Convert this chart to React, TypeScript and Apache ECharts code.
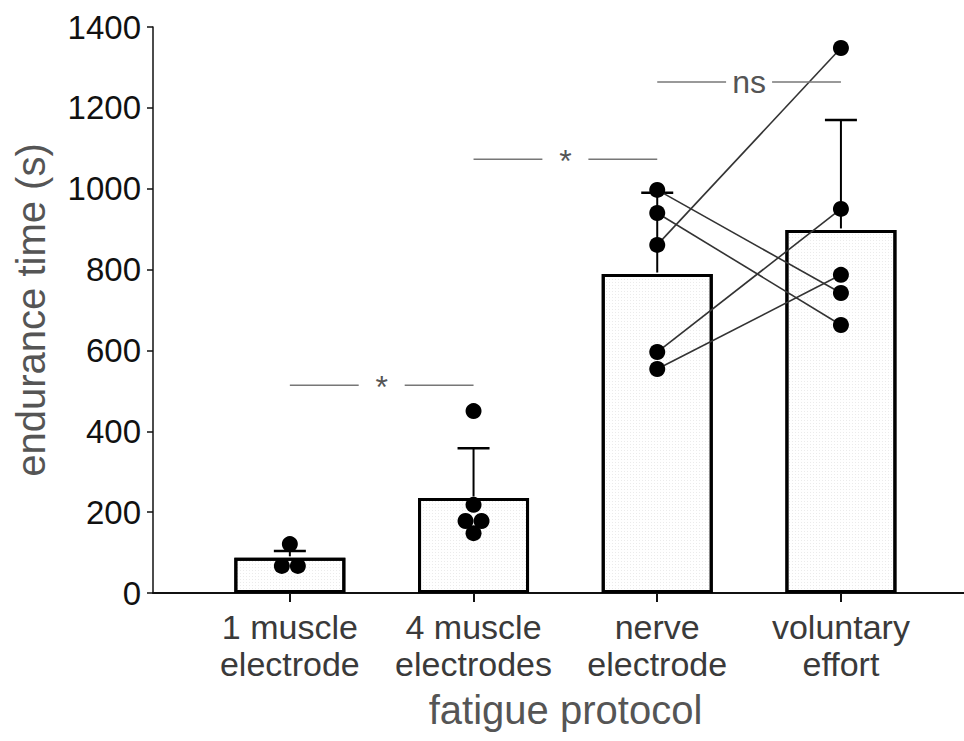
import React, { useEffect, useRef } from "react";
import * as echarts from "echarts";

const categories = ["1 muscle\nelectrode", "4 muscle\nelectrodes", "nerve\nelectrode", "voluntary\neffort"];
const means = [87, 235, 789, 898];
const sdUpper = [104, 358, 990, 1170];

// individual subjects
const dotGroup = [0, 0, 0, 1, 1, 1, 1, 1, 2, 2, 2, 2, 2, 3, 3, 3, 3, 3];
const dotValue = [121, 67, 67, 450, 218, 178, 178, 148, 997, 940, 861, 596, 554, 1348, 950, 787, 742, 663];

// paired subjects: nerve electrode -> voluntary effort
const pairNerve = [997, 940, 861, 596, 554];
const pairVoluntary = [742, 663, 1348, 950, 787];

// significance annotations
const sigFrom = [0, 1, 2];
const sigTo = [1, 2, 3];
const sigY = [514, 1073, 1264];
const sigLabel = ["*", "*", "ns"];

const yTicks = [0, 200, 400, 600, 800, 1000, 1200, 1400];

const FONT = "Liberation Sans, Arial, sans-serif";

export default function App() {
  const ref = useRef<HTMLDivElement>(null);
  useEffect(() => {
    document.body.style.margin = "0";
    if (!ref.current) return;
    const chart = echarts.init(ref.current, undefined, { renderer: "svg" });

    // spread dots with identical values in a group
    const dotData = dotValue.map((v, i) => {
      const same: number[] = [];
      dotValue.forEach((w, j) => {
        if (dotGroup[j] === dotGroup[i] && w === v) same.push(j);
      });
      const k = same.indexOf(i);
      const n = same.length;
      const shift = n > 1 ? (k - (n - 1) / 2) * 16 : 0;
      return [dotGroup[i], v, shift];
    });

    const pairSeries = pairNerve.map((v, i) => ({
      type: "line",
      data: [
        [2, v],
        [3, pairVoluntary[i]],
      ],
      symbol: "none",
      lineStyle: { color: "#333", width: 1.6 },
      z: 3,
      silent: true,
    }));

    const option: any = {
      animation: false,
      grid: { left: 153, right: 0, top: 27, bottom: 148 },
      xAxis: {
        type: "value",
        min: -0.745,
        max: 3.67,
        splitLine: { show: false },
        axisLine: { show: true, onZero: false, lineStyle: { color: "#111", width: 2 } },
        axisTick: { show: true, customValues: [0, 1, 2, 3], length: 9, lineStyle: { color: "#111", width: 2 } },
        axisLabel: {
          customValues: [0, 1, 2, 3],
          formatter: (v: number) => categories[Math.round(v)] ?? "",
          fontSize: 34,
          lineHeight: 37,
          color: "#3a3a3a",
          fontFamily: FONT,
          margin: 15,
        },
        name: "fatigue protocol",
        nameLocation: "middle",
        nameGap: 97,
        nameMoveOverlap: false,
        nameTextStyle: { fontSize: 40, color: "#555", fontFamily: FONT, padding: [0, 0, 0, 14] },
      },
      yAxis: {
        type: "value",
        min: 0,
        max: 1400,
        interval: 200,
        splitLine: { show: false },
        axisLine: { show: true, onZero: false, lineStyle: { color: "#111", width: 1.5 } },
        axisTick: { show: true, length: 6, lineStyle: { color: "#111", width: 1.5 } },
        axisLabel: {
          fontSize: 33,
          color: "#111",
          fontFamily: FONT,
          margin: 12,
          formatter: (v: number) => (yTicks.includes(v) ? String(v) : ""),
        },
        name: "endurance time (s)",
        nameLocation: "middle",
        nameGap: 102,
        nameMoveOverlap: false,
        nameTextStyle: { fontSize: 40, color: "#555", fontFamily: FONT },
      },
      series: [
        {
          type: "bar",
          data: means.map((m, i) => [i, m]),
          barWidth: 111,
          itemStyle: {
            color: "#ffffff",
            borderColor: "#000",
            borderWidth: 3,
            decal: {
              symbol: "rect",
              symbolSize: 1,
              color: "rgba(0,0,0,0.08)",
              dashArrayX: [1, 2],
              dashArrayY: [1, 2],
              rotation: 0,
            },
          },
          z: 1,
          silent: true,
        },
        {
          type: "custom",
          data: means.map((m, i) => [i, m, sdUpper[i]]),
          encode: { x: 0, y: [1, 2] },
          z: 2,
          silent: true,
          renderItem: (params: any, api: any) => {
            const x = api.value(0);
            const base = api.coord([x, api.value(1)]);
            const top = api.coord([x, api.value(2)]);
            return {
              type: "group",
              children: [
                { type: "line", shape: { x1: base[0], y1: base[1] - 1.5, x2: top[0], y2: top[1] }, style: { stroke: "#000", lineWidth: 2 } },
                { type: "line", shape: { x1: top[0] - 16, y1: top[1], x2: top[0] + 16, y2: top[1] }, style: { stroke: "#000", lineWidth: 2.5 } },
              ],
            };
          },
        },
        ...pairSeries,
        {
          type: "custom",
          data: dotData,
          encode: { x: 0, y: 1 },
          z: 4,
          silent: true,
          renderItem: (params: any, api: any) => {
            const p = api.coord([api.value(0), api.value(1)]);
            return {
              type: "circle",
              shape: { cx: p[0] + api.value(2), cy: p[1], r: 8 },
              style: { fill: "#000" },
            };
          },
        },
        {
          type: "custom",
          data: sigFrom.map((f, i) => [f, sigTo[i], sigY[i], i]),
          encode: { x: [0, 1], y: 2 },
          z: 5,
          silent: true,
          renderItem: (params: any, api: any) => {
            const a = api.coord([api.value(0), api.value(2)]);
            const b = api.coord([api.value(1), api.value(2)]);
            const mid = (a[0] + b[0]) / 2;
            const gap = 23;
            const label = sigLabel[api.value(3)];
            return {
              type: "group",
              children: [
                { type: "line", shape: { x1: a[0], y1: a[1], x2: mid - gap, y2: a[1] }, style: { stroke: "#777", lineWidth: 1.5 } },
                { type: "line", shape: { x1: mid + gap, y1: a[1], x2: b[0], y2: b[1] }, style: { stroke: "#777", lineWidth: 1.5 } },
                {
                  type: "text",
                  x: mid,
                  y: label === "*" ? a[1] + 2 : a[1],
                  style: {
                    text: label,
                    fontSize: 32,
                    fontFamily: FONT,
                    fill: "#555",
                    align: "center",
                    verticalAlign: "middle",
                  },
                },
              ],
            };
          },
        },
      ],
    };
    chart.setOption(option);
    return () => chart.dispose();
  }, []);
  return <div ref={ref} style={{ width: 964, height: 741 }} />;
}
